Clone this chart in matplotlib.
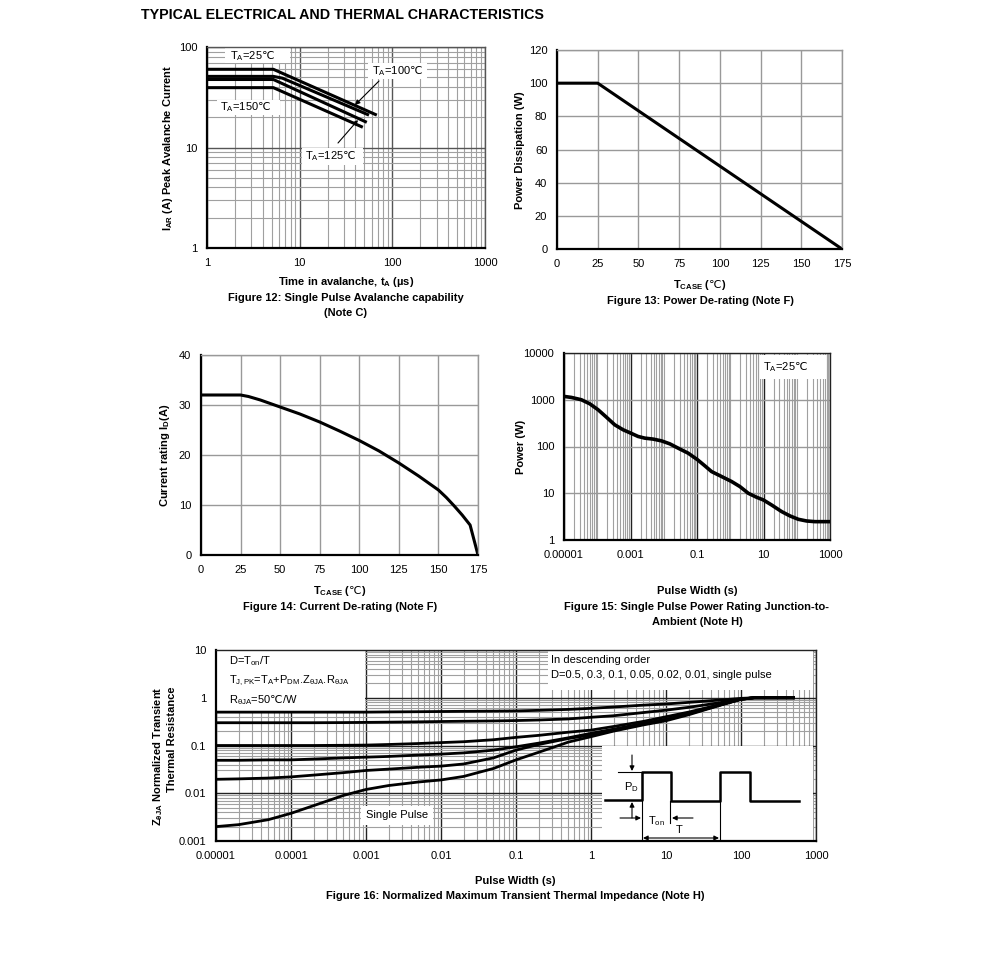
import matplotlib
matplotlib.use("Agg")
import matplotlib.pyplot as plt
import matplotlib.ticker as ticker
import matplotlib.transforms as mtransforms
from matplotlib.patches import Rectangle
import numpy as np

plt.rcParams['font.family'] = ['Liberation Sans', 'DejaVu Sans']
plt.rcParams['mathtext.fontset'] = 'custom'
plt.rcParams['mathtext.rm'] = 'Liberation Sans'
plt.rcParams['mathtext.it'] = 'Liberation Sans'
plt.rcParams['mathtext.bf'] = 'Liberation Sans:bold'
plt.rcParams['mathtext.sf'] = 'DejaVu Sans'      # for the ℃ sign
plt.rcParams['font.size'] = 8

DEG = r'$\mathsf{℃}$'

# ---- data ----
# Fig 12: avalanche current vs time
t_25 = [1, 5.2, 68]
i_25 = [60, 60, 21]
t_100 = [1, 5.2, 6.5, 56]
i_100 = [51, 51, 49, 21]
t_125 = [1, 5.2, 53]
i_125 = [47.5, 47.5, 17.8]
t_150 = [1, 5.2, 48]
i_150 = [39.4, 39.4, 15.9]

# Fig 13: power derating
tc_pd = [0, 25, 175]
pd = [100, 100, 0]

# Fig 14: current derating
tc_id = [0, 25, 30, 37.5, 50, 62.5, 75, 87.5, 100, 112.5, 125, 137.5, 150,
         155, 160, 165, 170, 175]
id_a = [32, 32, 31.7, 31.0, 29.6, 28.2, 26.6, 24.8, 22.9, 20.8, 18.4, 15.8, 13.0,
        11.5, 9.8, 8.0, 6.0, 0]

# Fig 15: single pulse power
pw15 = [1e-5, 1.66e-5, 3.33e-5, 5.93e-5, 1.06e-4, 1.88e-4, 3.36e-4, 5.98e-4,
        1.02e-3, 1.69e-3, 2.69e-3, 4.8e-3, 8.55e-3, 0.0152, 0.0272, 0.0543,
        0.104, 0.173, 0.274, 0.548, 1.10, 1.95, 3.48, 6.21, 9.87, 17.6, 35.2,
        62.7, 112, 199, 355, 1000]
pwr15 = [1179, 1122, 1000, 821, 611, 425, 291, 228,
         193, 164, 151, 144, 132, 114, 92, 72,
         52, 38.5, 29.1, 22.8, 17.8, 13.9, 10, 8.2, 7.2, 5.6, 4.05,
         3.27, 2.77, 2.55, 2.47, 2.47]

# Fig 16: normalized transient thermal impedance
pw16 = [1e-5, 2e-5, 5e-5, 1e-4, 2e-4, 5e-4, 1e-3, 2e-3, 5e-3, 0.01, 0.02, 0.05,
        0.1, 0.2, 0.5, 1, 2, 5, 10, 20, 50, 100, 150, 500]
z_d05 = [0.50, 0.50, 0.50, 0.50, 0.50, 0.50, 0.50, 0.505, 0.51, 0.515, 0.52, 0.525,
         0.53, 0.545, 0.57, 0.60, 0.64, 0.70, 0.74, 0.80, 0.89, 0.97, 1.0, 1.0]
z_d03 = [0.300, 0.300, 0.300, 0.300, 0.300, 0.302, 0.305, 0.308, 0.313, 0.318,
         0.322, 0.327, 0.333, 0.342, 0.36, 0.39, 0.42, 0.49, 0.55, 0.63, 0.78,
         0.94, 1.0, 1.0]
z_d01 = [0.100, 0.100, 0.100, 0.100, 0.100, 0.101, 0.102, 0.105, 0.110, 0.115,
         0.120, 0.132, 0.148, 0.163, 0.19, 0.21, 0.25, 0.32, 0.40, 0.50, 0.71,
         0.93, 1.0, 1.0]
z_d005 = [0.049, 0.049, 0.050, 0.050, 0.052, 0.055, 0.057, 0.059, 0.063, 0.066,
          0.070, 0.080, 0.094, 0.112, 0.145, 0.18, 0.22, 0.29, 0.355, 0.46, 0.69,
          0.93, 1.0, 1.0]
z_d002 = [0.0196, 0.0200, 0.0208, 0.022, 0.024, 0.027, 0.030, 0.032, 0.035, 0.037,
          0.041, 0.055, 0.080, 0.105, 0.14, 0.166, 0.21, 0.28, 0.35, 0.46, 0.69,
          0.93, 1.0, 1.0]
z_single = [0.0020, 0.0022, 0.0028, 0.0038, 0.0055, 0.0090, 0.0120, 0.0145, 0.0172,
            0.0190, 0.0225, 0.033, 0.050, 0.072, 0.118, 0.153, 0.20, 0.27, 0.33,
            0.44, 0.68, 0.93, 1.0, 1.0]

W, H = 991, 957
fig = plt.figure(figsize=(W / 100, H / 100), dpi=100)
# reference pixel coordinates (origin top-left)
PX = mtransforms.Affine2D().scale(1 / W, -1 / H).translate(0, 1) + fig.transFigure


def add_ax(l, t, r, b):
    return fig.add_axes([l / W, 1 - b / H, (r - l) / W, (b - t) / H])


def style(ax, major='#555555', minor='#a0a0a0'):
    ax.set_axisbelow(True)
    ax.grid(True, which='major', color=major, lw=1.0)
    ax.grid(True, which='minor', color=minor, lw=0.8)
    ax.tick_params(which='both', length=0, pad=7, labelsize=8)
    for s in ['left', 'bottom']:
        ax.spines[s].set_linewidth(1.6)
        ax.spines[s].set_color('black')
    for s in ['top', 'right']:
        ax.spines[s].set_linewidth(1.0)
        ax.spines[s].set_color(major)


fmt = ticker.FuncFormatter(lambda v, p: np.format_float_positional(v, trim='-'))


def log_axis(axis, ticks):
    axis.set_major_locator(ticker.FixedLocator(ticks))
    axis.set_minor_locator(ticker.LogLocator(base=10, subs=np.arange(1, 10), numticks=30))
    axis.set_major_formatter(fmt)
    axis.set_minor_formatter(ticker.NullFormatter())


def label(x, y, s, **kw):
    return fig.text(x, y, s, transform=PX, ha='center', va='center', fontsize=8,
                    fontweight='bold', **kw)


def panel(ax, l, t, r, b):
    ax.add_patch(Rectangle((l, b), r - l, t - b, transform=PX, facecolor='white',
                           edgecolor='none', zorder=1))


def note(ax, x, y, s, ha='left'):
    ax.text(x, y, s, transform=PX, ha=ha, va='center', fontsize=8, zorder=4)


def arrow(ax, xy, xytext, style='-|>'):
    ax.annotate('', xy=xy, xytext=xytext, xycoords=PX, textcoords=PX,
                arrowprops=dict(arrowstyle=style, lw=0.8, color='black',
                                mutation_scale=7, shrinkA=0, shrinkB=0))


fig.text(141, 15, 'TYPICAL ELECTRICAL AND THERMAL CHARACTERISTICS', transform=PX,
         ha='left', va='center', fontsize=10.3, fontweight='bold')

# ---------------- Figure 12 ----------------
ax1 = add_ax(207, 47, 485, 248)
ax1.set_xscale('log')
ax1.set_yscale('log')
ax1.set_xlim(1, 1000)
ax1.set_ylim(1, 100)
log_axis(ax1.xaxis, [1, 10, 100, 1000])
log_axis(ax1.yaxis, [1, 10, 100])
style(ax1)
for t, i in [(t_25, i_25), (t_100, i_100), (t_125, i_125), (t_150, i_150)]:
    ax1.plot(t, i, color='black', lw=2.2, solid_capstyle='butt', zorder=3)
panel(ax1, 225, 48, 290, 63)
panel(ax1, 368, 63, 427, 79)
panel(ax1, 217, 100, 280, 115)
panel(ax1, 302, 148, 363, 165)
note(ax1, 230, 56, r'$\mathrm{T_A}$=25' + DEG)
note(ax1, 372, 71, r'$\mathrm{T_A}$=100' + DEG)
note(ax1, 220, 107, r'$\mathrm{T_A}$=150' + DEG)
note(ax1, 305, 156, r'$\mathrm{T_A}$=125' + DEG)
arrow(ax1, (355, 105), (379, 81))
arrow(ax1, (358, 120), (338, 143))
label(168, 148, r'$\mathbf{I_{AR}}$ (A) Peak Avalanche Current', rotation=90)
label(346, 282, r'Time in avalanche, $\mathbf{t_A}$ (µs)')
label(346, 298, 'Figure 12: Single Pulse Avalanche capability')
label(346, 313, '(Note C)')

# ---------------- Figure 13 ----------------
ax2 = add_ax(557, 50, 842, 249)
ax2.set_xlim(0, 175)
ax2.set_ylim(0, 120)
ax2.set_xticks(np.arange(0, 176, 25))
ax2.set_yticks(np.arange(0, 121, 20))
style(ax2, major='#999999')
ax2.plot(tc_pd, pd, color='black', lw=2.2)
label(520, 150, 'Power Dissipation (W)', rotation=90)
label(700, 285, r'$\mathbf{T_{CASE}}$ (' + DEG + ')')
label(700, 301, 'Figure 13: Power De-rating (Note F)')

# ---------------- Figure 14 ----------------
ax3 = add_ax(201, 355, 478, 555)
ax3.set_xlim(0, 175)
ax3.set_ylim(0, 40)
ax3.set_xticks(np.arange(0, 176, 25))
ax3.set_yticks(np.arange(0, 41, 10))
style(ax3, major='#999999')
ax3.plot(tc_id, id_a, color='black', lw=2.2)
label(165, 455, r'Current rating $\mathbf{I_D}$(A)', rotation=90)
label(340, 591, r'$\mathbf{T_{CASE}}$ (' + DEG + ')')
label(340, 607, 'Figure 14: Current De-rating (Note F)')

# ---------------- Figure 15 ----------------
ax4 = add_ax(564, 353, 830, 540)
ax4.set_xscale('log')
ax4.set_yscale('log')
ax4.set_xlim(1e-5, 1000)
ax4.set_ylim(1, 10000)
log_axis(ax4.xaxis, [1e-5, 1e-3, 0.1, 10, 1000])
ax4.yaxis.set_major_locator(ticker.FixedLocator([1, 10, 100, 1000, 10000]))
ax4.yaxis.set_major_formatter(fmt)
ax4.yaxis.set_minor_locator(ticker.NullLocator())
style(ax4, major='#222222', minor='#a0a0a0')
ax4.grid(True, which='major', axis='y', color='#999999', lw=1.0)
ax4.plot(pw15, pwr15, color='black', lw=2.6, zorder=3)
panel(ax4, 760, 355, 826, 379)
note(ax4, 763, 367, r'$\mathrm{T_A}$=25' + DEG)
label(521, 447, 'Power (W)', rotation=90)
label(697, 591, 'Pulse Width (s)')
label(697, 607, 'Figure 15: Single Pulse Power Rating Junction-to-')
label(697, 622, 'Ambient (Note H)')

# ---------------- Figure 16 ----------------
ax5 = add_ax(216, 650, 816, 841)
ax5.set_xscale('log')
ax5.set_yscale('log')
ax5.set_xlim(1e-5, 1000)
ax5.set_ylim(1e-3, 10)
log_axis(ax5.xaxis, [1e-5, 1e-4, 1e-3, 1e-2, 0.1, 1, 10, 100, 1000])
log_axis(ax5.yaxis, [1e-3, 1e-2, 0.1, 1, 10])
style(ax5, major='#222222', minor='#a0a0a0')
for z in [z_d05, z_d03, z_d01, z_d005, z_d002, z_single]:
    ax5.plot(pw16, z, color='black', lw=2.0, zorder=3)

# text panels
panel(ax5, 216, 650, 365, 712)
panel(ax5, 548, 650, 813, 690)
panel(ax5, 361, 806, 433, 825)
panel(ax5, 602, 746, 813, 840)
note(ax5, 229, 661, r'D=$\mathrm{T_{on}}$/T')
note(ax5, 229, 681, r'$\mathrm{T_{J,PK}}$=$\mathrm{T_A}$+$\mathrm{P_{DM}}$.'
     r'$\mathrm{Z_{θJA}}$.$\mathrm{R_{θJA}}$')
note(ax5, 229, 700, r'$\mathrm{R_{θJA}}$=50' + DEG + '/W')
note(ax5, 551, 660, 'In descending order')
note(ax5, 551, 675, 'D=0.5, 0.3, 0.1, 0.05, 0.02, 0.01, single pulse')
note(ax5, 397, 815, 'Single Pulse', ha='center')

# pulse waveform sketch
wave_x = [605, 642, 642, 671, 671, 720, 720, 750, 750, 799]
wave_y = [800, 800, 772, 772, 801, 801, 772, 772, 801, 801]
ax5.plot(wave_x, wave_y, transform=PX, color='black', lw=1.8, zorder=4, clip_on=False)
for x, y0, y1 in [(642, 772, 841), (720, 801, 841), (670, 801, 823)]:
    ax5.plot([x, x], [y0, y1], transform=PX, color='black', lw=0.8, zorder=4)
ax5.plot([618, 642], [772, 772], transform=PX, color='black', lw=0.8, zorder=4)
arrow(ax5, (632, 771), (632, 755))
arrow(ax5, (632, 802), (632, 818))
arrow(ax5, (641, 818), (620, 818))
arrow(ax5, (672, 818), (693, 818))
arrow(ax5, (719, 838), (643, 838), style='<|-|>')
note(ax5, 631, 787, r'$\mathrm{P_D}$', ha='center')
note(ax5, 656, 821, r'$\mathrm{T_{on}}$', ha='center')
note(ax5, 679, 830, 'T', ha='center')

label(158, 687, r'$\mathbf{Z_{θJA}}$ Normalized Transient', rotation=90).set_va('top')
label(172, 687, 'Thermal Resistance', rotation=90).set_va('top')
label(515, 881, 'Pulse Width (s)')
label(515, 896, 'Figure 16: Normalized Maximum Transient Thermal Impedance (Note H)')

fig.savefig('out.png', dpi=100)
